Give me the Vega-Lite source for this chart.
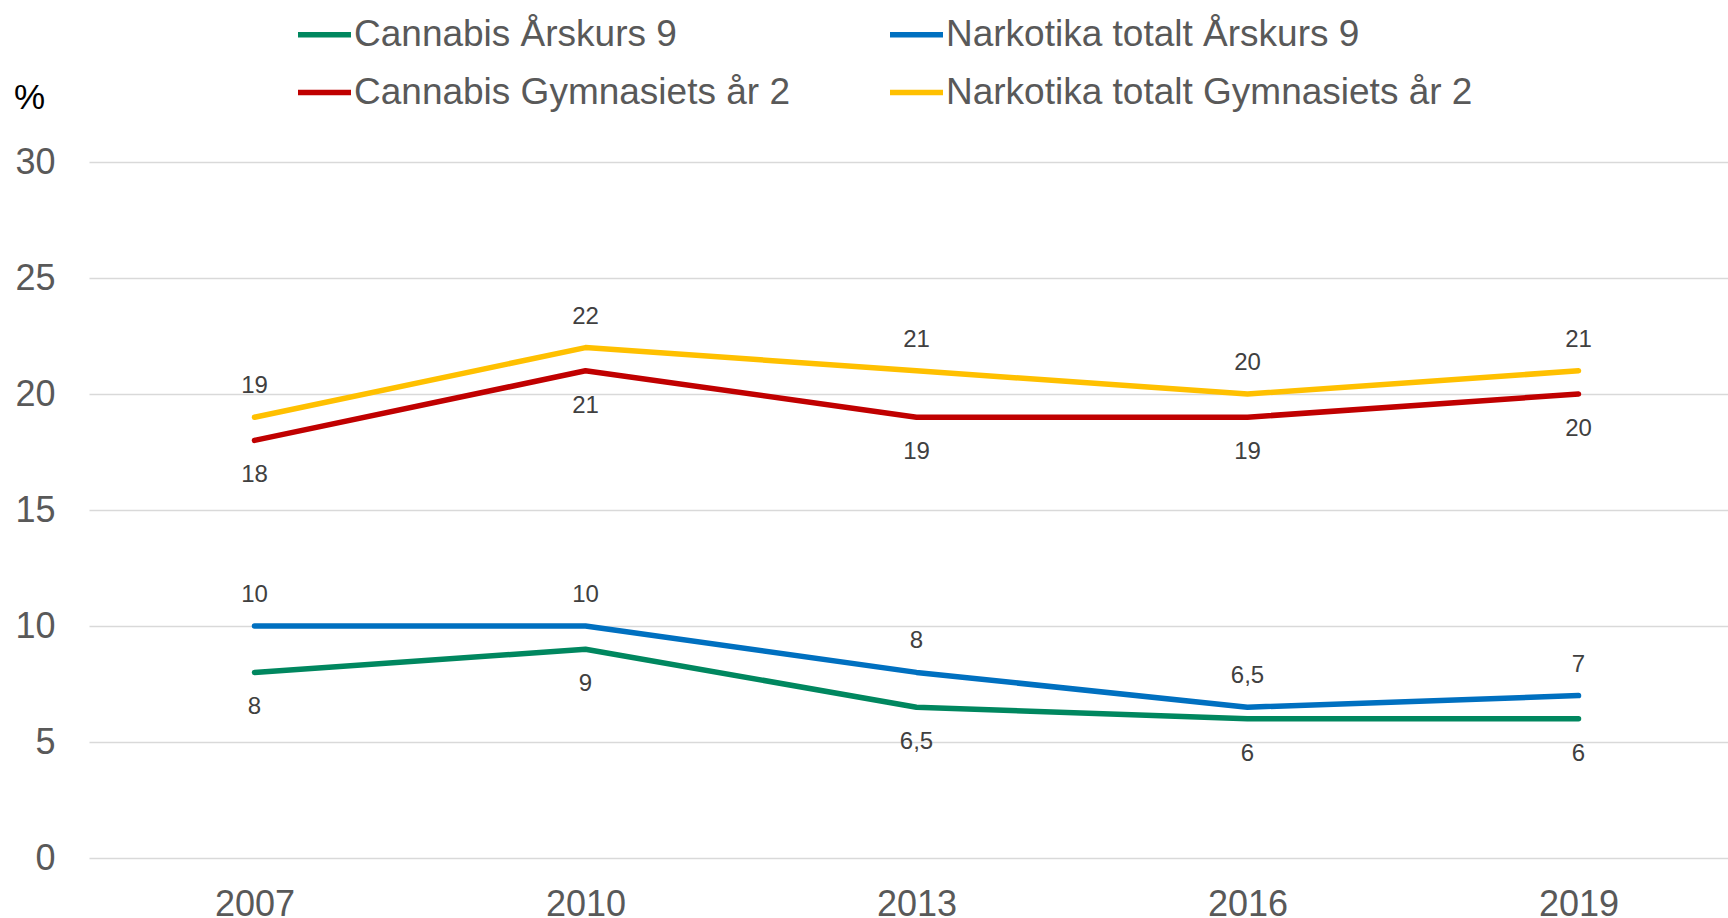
{
  "$schema": "https://vega.github.io/schema/vega-lite/v6.json",
  "width": 1655,
  "height": 696,
  "autosize": {"type": "none"},
  "padding": {"left": 89, "top": 162, "right": 0, "bottom": 60},
  "background": "white",
  "config": {
    "font": "Liberation Sans",
    "view": {"stroke": null}
  },
  "data": {
    "values": [
      {"year": "2007", "series": "Cannabis Årskurs 9", "value": 8, "label": "8"},
      {"year": "2010", "series": "Cannabis Årskurs 9", "value": 9, "label": "9"},
      {"year": "2013", "series": "Cannabis Årskurs 9", "value": 6.5, "label": "6,5"},
      {"year": "2016", "series": "Cannabis Årskurs 9", "value": 6, "label": "6"},
      {"year": "2019", "series": "Cannabis Årskurs 9", "value": 6, "label": "6"},
      {"year": "2007", "series": "Narkotika totalt Årskurs 9", "value": 10, "label": "10"},
      {"year": "2010", "series": "Narkotika totalt Årskurs 9", "value": 10, "label": "10"},
      {"year": "2013", "series": "Narkotika totalt Årskurs 9", "value": 8, "label": "8"},
      {"year": "2016", "series": "Narkotika totalt Årskurs 9", "value": 6.5, "label": "6,5"},
      {"year": "2019", "series": "Narkotika totalt Årskurs 9", "value": 7, "label": "7"},
      {"year": "2007", "series": "Cannabis Gymnasiets år 2", "value": 18, "label": "18"},
      {"year": "2010", "series": "Cannabis Gymnasiets år 2", "value": 21, "label": "21"},
      {"year": "2013", "series": "Cannabis Gymnasiets år 2", "value": 19, "label": "19"},
      {"year": "2016", "series": "Cannabis Gymnasiets år 2", "value": 19, "label": "19"},
      {"year": "2019", "series": "Cannabis Gymnasiets år 2", "value": 20, "label": "20"},
      {"year": "2007", "series": "Narkotika totalt Gymnasiets år 2", "value": 19, "label": "19"},
      {"year": "2010", "series": "Narkotika totalt Gymnasiets år 2", "value": 22, "label": "22"},
      {"year": "2013", "series": "Narkotika totalt Gymnasiets år 2", "value": 21, "label": "21"},
      {"year": "2016", "series": "Narkotika totalt Gymnasiets år 2", "value": 20, "label": "20"},
      {"year": "2019", "series": "Narkotika totalt Gymnasiets år 2", "value": 21, "label": "21"}
    ]
  },
  "encoding": {
    "x": {
      "field": "year",
      "type": "ordinal",
      "scale": {"type": "point", "padding": 0.5},
      "axis": {
        "title": null,
        "labelAngle": 0,
        "labelFontSize": 36,
        "labelColor": "#595959",
        "labelPadding": 29,
        "domain": false,
        "ticks": false,
        "grid": false
      }
    },
    "y": {
      "field": "value",
      "type": "quantitative",
      "scale": {"domain": [0, 30], "nice": false},
      "axis": {
        "values": [0, 5, 10, 15, 20, 25, 30],
        "title": "%",
        "titleAngle": 0,
        "titleX": -60,
        "titleY": -65,
        "titleAlign": "center",
        "titleBaseline": "middle",
        "titleFontSize": 35,
        "titleFontWeight": "normal",
        "titleColor": "#000000",
        "labelFontSize": 36,
        "labelColor": "#595959",
        "labelPadding": 34,
        "domain": false,
        "ticks": false,
        "grid": true,
        "gridColor": "#d9d9d9",
        "gridWidth": 1.5
      }
    }
  },
  "layer": [
    {
      "mark": {"type": "line", "strokeWidth": 5.5, "strokeCap": "round", "strokeJoin": "round"},
      "encoding": {
        "color": {
          "field": "series",
          "type": "nominal",
          "scale": {
            "domain": ["Cannabis Årskurs 9", "Narkotika totalt Årskurs 9", "Cannabis Gymnasiets år 2", "Narkotika totalt Gymnasiets år 2"],
            "range": ["#00875f", "#0070c0", "#c00000", "#ffc000"]
          },
          "legend": {
            "title": null,
            "orient": "none",
            "legendX": 206,
            "legendY": -157,
            "direction": "horizontal",
            "columns": 2,
            "columnPadding": 89,
            "rowPadding": 10,
            "symbolType": "stroke",
            "symbolSize": 2809,
            "symbolStrokeWidth": 5.5,
            "labelFontSize": 37,
            "labelColor": "#595959",
            "labelOffset": 0,
            "labelLimit": 600
          }
        }
      }
    },
    {
      "transform": [{"filter": {"field": "series", "oneOf": ["Narkotika totalt Årskurs 9", "Narkotika totalt Gymnasiets år 2"]}}],
      "mark": {"type": "text", "fontSize": 24, "color": "#404040", "dy": -31, "baseline": "middle"},
      "encoding": {"text": {"field": "label"}}
    },
    {
      "transform": [{"filter": {"field": "series", "oneOf": ["Cannabis Årskurs 9", "Cannabis Gymnasiets år 2"]}}],
      "mark": {"type": "text", "fontSize": 24, "color": "#404040", "dy": 35, "baseline": "middle"},
      "encoding": {"text": {"field": "label"}}
    }
  ]
}
